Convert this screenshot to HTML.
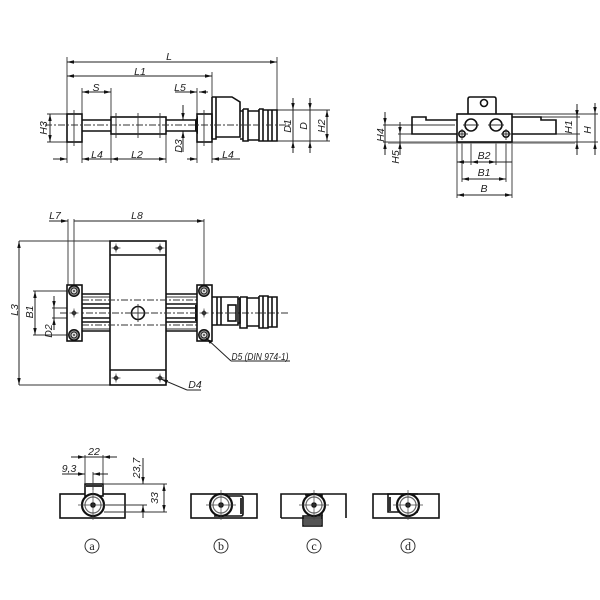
<!DOCTYPE html>
<html><head><meta charset="utf-8"><style>
html,body{margin:0;padding:0;background:#fff;width:600px;height:600px;overflow:hidden}
svg{display:block;filter:blur(.35px)}
text{font-family:"Liberation Sans",sans-serif;font-style:italic;font-size:10.5px;fill:#222;text-anchor:middle}
.o{fill:none;stroke:#111;stroke-width:1.6}
.w{fill:#fff;stroke:#111;stroke-width:1.6}
.t{fill:none;stroke:#333;stroke-width:.9}
.c{fill:none;stroke:#333;stroke-width:.9;stroke-dasharray:7 2 2 2}
.d{fill:none;stroke:#222;stroke-width:1}
</style></head><body>
<svg width="600" height="600" viewBox="0 0 600 600" xmlns="http://www.w3.org/2000/svg">
<defs>
<marker id="a" markerWidth="7" markerHeight="4" refX="7" refY="2" orient="auto-start-reverse" markerUnits="userSpaceOnUse"><path d="M0 .3L7 2L0 3.7z" fill="#111"/></marker>
<g id="dia"><path d="M0 -3L3 0L0 3L-3 0z" fill="#222"/><path d="M-4.500 0H4.500M0 -4.500V4.500" stroke="#444" stroke-width=".7"/></g>
<g id="scr"><circle r="5.200" fill="#999" stroke="#111" stroke-width="1.500"/><circle r="3" fill="#ddd" stroke="#222" stroke-width="1"/><circle r="1" fill="#444"/></g>
<g id="ring"><circle r="11" fill="#fff" stroke="#111" stroke-width="2.200"/><circle r="8" fill="none" stroke="#666" stroke-width="1.200"/><circle r="2.800" fill="#111"/><path d="M-15 0H15M0 -15V15" stroke="#444" stroke-width=".7"/></g>
</defs>

<!-- TOP LEFT VIEW -->
<path class="t" d="M67 57V163M82 88V163M111 88V163M166 134V163M212 72V163M197 88V163M277 57V110M47 114H67M47 142H67M277 110H330M277 141H330"/>
<path class="d" d="M67 62H277" marker-start="url(#a)" marker-end="url(#a)"/>
<path class="d" d="M67 76H212" marker-start="url(#a)" marker-end="url(#a)"/>
<path class="d" d="M82 92H111" marker-start="url(#a)" marker-end="url(#a)"/>
<path class="d" d="M50 114V142" marker-start="url(#a)" marker-end="url(#a)"/>
<path class="d" d="M53 159H67" marker-end="url(#a)"/><path class="d" d="M111 159H82" marker-end="url(#a)"/>
<path class="d" d="M111 159H166" marker-start="url(#a)" marker-end="url(#a)"/>
<path class="d" d="M187 159H197" marker-end="url(#a)"/><path class="d" d="M240 159H212" marker-end="url(#a)"/>
<path class="d" d="M175 92H197" marker-end="url(#a)"/><path class="d" d="M208 92H199" marker-end="url(#a)"/>
<path class="d" d="M183 105V120" marker-end="url(#a)"/><path class="d" d="M183 152V131" marker-end="url(#a)"/>
<path class="d" d="M293 98V110" marker-end="url(#a)"/><path class="d" d="M293 153V141" marker-end="url(#a)"/><path class="d" d="M293 110V141"/>
<path class="d" d="M310 98V110" marker-end="url(#a)"/><path class="d" d="M310 153V141" marker-end="url(#a)"/><path class="d" d="M310 110V141"/>
<path class="d" d="M327 110V141" marker-start="url(#a)" marker-end="url(#a)"/>
<rect class="o" x="67" y="114" width="15" height="28"/>
<rect class="o" x="197" y="114" width="15" height="28"/>
<path class="o" d="M82 120H111M82 131H111M166 120H196M166 131H196"/>
<rect class="o" x="111" y="117" width="55" height="17"/>
<path d="M195 120L198 116V134L195 131z" fill="#111"/>
<path class="t" d="M116 113V138M138 113V138M160 113V138"/>
<path class="o" d="M212 97V139M212 97H216V139H212M216 97H232L240 102V137H216"/>
<path class="o" d="M240 111H243V139H240M243 109H248V141H243V109M248 111H259V140H248M259 109H263V141H259V109M263 110H268V141H263V110M268 110H272V141H268V110M272 110H277V141H272"/>
<path class="c" d="M45 125H290"/>
<path class="t" d="M74 110V146M204 110V146"/>

<text transform="translate(47 128) rotate(-90)">H3</text>
<text x="169" y="60">L</text>
<text x="140" y="75">L1</text>
<text x="96" y="91">S</text>
<text x="180" y="91">L5</text>
<text x="97" y="158">L4</text>
<text x="137" y="158">L2</text>
<text x="228" y="158">L4</text>
<text transform="translate(182 146) rotate(-90)">D3</text>
<text transform="translate(291 126) rotate(-90)">D1</text>
<text transform="translate(307 126) rotate(-90)">D</text>
<text transform="translate(325 126) rotate(-90)">H2</text>

<!-- TOP RIGHT VIEW -->
<path class="t" d="M383 125H455M398 134H412M383 142H388M512 117H580M512 114H598M556 134H580M575 142H598M471 125V165M496 125V165M462 134V182M506 134V182M457 142V198M512 142V198"/>
<path d="M388 142.500H575" stroke="#777" stroke-width="2.200"/>
<path class="o" d="M457 120H426V117H412V120V134H457M512 117H541V120H556V134H512M412 120V134"/>
<path class="o" d="M468 114V99Q468 97 470 97H494Q496 97 496 99V114"/>
<circle class="o" cx="484" cy="103" r="3.500"/>
<rect class="w" x="457" y="114" width="55" height="28"/>
<circle class="o" cx="471" cy="125" r="6"/><circle class="o" cx="496" cy="125" r="6"/>
<circle class="o" cx="462" cy="134" r="3.200"/><circle class="o" cx="506" cy="134" r="3.200"/>
<path class="t" d="M462 129V140M457 134H468M506 129V140M501 134H512M463 125H479M488 125H504"/>
<path class="d" d="M385 112V125" marker-end="url(#a)"/><path class="d" d="M385 155V142" marker-end="url(#a)"/><path class="d" d="M385 125V142"/>
<path class="d" d="M400 122V134" marker-end="url(#a)"/><path class="d" d="M400 155V142" marker-end="url(#a)"/><path class="d" d="M400 134V142"/>
<path class="d" d="M577 104V117" marker-end="url(#a)"/><path class="d" d="M577 155V142" marker-end="url(#a)"/><path class="d" d="M577 117V142"/>
<path class="d" d="M595 103V114" marker-end="url(#a)"/><path class="d" d="M595 155V142" marker-end="url(#a)"/><path class="d" d="M595 114V142"/>
<path class="d" d="M457 162H471" marker-start="url(#a)"/>
<path class="d" d="M471 162H496" marker-start="url(#a)" marker-end="url(#a)"/>
<path class="d" d="M496 162H512"/>
<path class="d" d="M462 179H506" marker-start="url(#a)" marker-end="url(#a)"/>
<path class="d" d="M457 195H512" marker-start="url(#a)" marker-end="url(#a)"/>
<text x="484" y="159">B2</text><text x="484" y="176">B1</text><text x="484" y="192">B</text>
<text transform="translate(384 135) rotate(-90)">H4</text>
<text transform="translate(399 157) rotate(-90)">H5</text>
<text transform="translate(572 127) rotate(-90)">H1</text>
<text transform="translate(591 130) rotate(-90)">H</text>

<!-- MID VIEW -->
<path class="t" d="M19 241H110M19 385H110M68 219V285M74 219V285M204 219V285M33 291H67M33 335H67M52 308H68M52 318H68"/>
<path class="d" d="M49 221H68" marker-end="url(#a)"/>
<path class="d" d="M74 221H204" marker-end="url(#a)"/>
<path class="d" d="M19 241V385" marker-start="url(#a)" marker-end="url(#a)"/>
<path class="d" d="M35 291V335" marker-start="url(#a)" marker-end="url(#a)"/>
<path class="d" d="M54 296V308" marker-end="url(#a)"/><path class="d" d="M54 330V318" marker-end="url(#a)"/><path class="d" d="M54 308V318"/>
<path class="o" d="M82 294H110M82 331H110M166 294H197M166 331H197M82 304H110M82 308H110M82 318H110M82 322H110M166 304H197M166 308H197M166 318H197M166 322H197"/>
<path class="t" d="M82 297H110M82 329H110M166 297H197M166 329H197"/>
<path d="M195 305H198V321H195z" fill="#111"/>
<rect class="w" x="110" y="241" width="56" height="144"/>
<path class="o" d="M110 255H166M110 370H166"/>
<path class="c" d="M82 300H197M82 325H197M60 313H290"/>
<circle class="w" cx="138" cy="313" r="6.500"/>
<path class="t" d="M138 304V322M128 313H148"/>
<use href="#dia" x="116" y="248"/><use href="#dia" x="160" y="248"/><use href="#dia" x="116" y="378"/><use href="#dia" x="160" y="378"/>
<rect class="w" x="67" y="285" width="15" height="56"/>
<rect class="w" x="197" y="285" width="15" height="56"/>
<use href="#scr" x="74" y="291"/><use href="#scr" x="74" y="335"/><use href="#dia" x="74" y="313"/>
<use href="#scr" x="204" y="291"/><use href="#scr" x="204" y="335"/><use href="#dia" x="204" y="313"/>
<path class="o" d="M212 297H217V325H212M217 297H238V325H217M221 297V325M238 299H240V323H238"/>
<rect class="o" x="228" y="305" width="8" height="16"/>
<path class="o" d="M240 297H247V328H240V297M247 298H259V326H247M259 296H263V328H259V296M263 296H268V328H263V296M268 297H277V327H268V297M272 297V327"/>
<path class="d" d="M231 361L206 338" marker-end="url(#a)"/><path class="d" d="M231 361H290"/>
<path class="d" d="M187 390L161 379" marker-end="url(#a)"/><path class="d" d="M187 390H201"/>
<text x="55" y="219">L7</text><text x="137" y="219">L8</text>
<text x="260" y="360" textLength="57" lengthAdjust="spacingAndGlyphs">D5 (DIN 974-1)</text>
<text x="195" y="388">D4</text>
<text transform="translate(18 310) rotate(-90)">L3</text>
<text transform="translate(33 312) rotate(-90)">B1</text>
<text transform="translate(52 331) rotate(-90)">D2</text>

<!-- BOTTOM ROW -->
<rect class="o" x="60" y="494" width="65" height="24"/>
<rect class="w" x="85" y="484" width="18" height="12"/>
<path d="M86 485H102V487H86z" fill="#333"/>
<use href="#ring" x="93" y="505"/>
<path class="t" d="M85 455V484M103 455V484M93 472V490M103 484H167M104 505H147M104 512H167"/>
<path class="d" d="M71 457H85" marker-end="url(#a)"/><path class="d" d="M117 457H103" marker-end="url(#a)"/><path class="d" d="M85 457H103"/>
<path class="d" d="M62 474H85" marker-end="url(#a)"/><path class="d" d="M108 474H93" marker-end="url(#a)"/>
<path class="d" d="M143 458V484" marker-end="url(#a)"/><path class="d" d="M143 518V505" marker-end="url(#a)"/>
<path class="d" d="M164 484V512" marker-start="url(#a)" marker-end="url(#a)"/>
<text x="94" y="455">22</text><text x="69" y="472">9,3</text>
<text transform="translate(140 468) rotate(-90)">23,7</text>
<text transform="translate(158 498) rotate(-90)">33</text>

<rect class="o" x="191" y="494" width="66" height="24"/>
<path class="o" d="M214 496H241Q243 496 243 498V514Q243 516 241 516H214"/>
<path d="M240 498H243V514H240z" fill="#333"/>
<use href="#ring" x="221" y="505"/>

<path class="o" d="M281 518V494H346V518M281 518H322"/>
<rect class="o" x="303" y="516" width="19" height="10"/>
<path d="M304 519H321V525H304z" fill="#555"/>
<path class="o" d="M305 495H322V516"/>
<use href="#ring" x="314" y="505"/>

<rect class="o" x="373" y="494" width="66" height="24"/>
<path class="o" d="M418 512H388V494H418"/>
<path d="M388 497H391V511H388z" fill="#333"/>
<use href="#ring" x="408" y="505"/>

<g fill="none" stroke="#333" stroke-width="1">
<circle cx="92" cy="546" r="7"/><circle cx="221" cy="546" r="7"/><circle cx="314" cy="546" r="7"/><circle cx="408" cy="546" r="7"/>
</g>
<text x="92" y="550" style="font-style:normal;font-size:12px;font-family:'Liberation Serif',serif">a</text>
<text x="221" y="550" style="font-style:normal;font-size:12px;font-family:'Liberation Serif',serif">b</text>
<text x="314" y="550" style="font-style:normal;font-size:12px;font-family:'Liberation Serif',serif">c</text>
<text x="408" y="550" style="font-style:normal;font-size:12px;font-family:'Liberation Serif',serif">d</text>
</svg>
</body></html>
